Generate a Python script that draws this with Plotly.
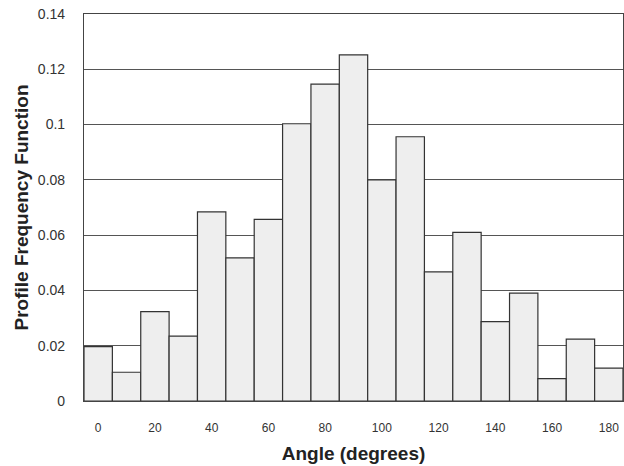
import plotly.graph_objects as go

angles = [0, 10, 20, 30, 40, 50, 60, 70, 80, 90, 100, 110, 120, 130, 140, 150, 160, 170, 180]
frequency = [0.0197, 0.0104, 0.0323, 0.0235, 0.0684, 0.0518, 0.0657, 0.1003, 0.1146, 0.1252,
             0.0800, 0.0956, 0.0467, 0.0610, 0.0287, 0.0390, 0.0081, 0.0224, 0.0119]
y_ticks = [0, 0.02, 0.04, 0.06, 0.08, 0.1, 0.12, 0.14]
y_ticktext = ["0", "0.02", "0.04", "0.06", "0.08", "0.1", "0.12", "0.14"]
x_ticks = [0, 20, 40, 60, 80, 100, 120, 140, 160, 180]

fig = go.Figure()
fig.add_trace(go.Bar(
    x=angles, y=frequency, width=10,
    marker=dict(color="#eeeeee", line=dict(color="#333333", width=1.2)),
))

fig.update_layout(
    width=624, height=466,
    margin=dict(l=84, r=1, t=14, b=65),
    paper_bgcolor="white", plot_bgcolor="white",
    showlegend=False,
    font=dict(family="Liberation Sans, Arial, sans-serif", color="#222222"),
    xaxis=dict(
        range=[-5, 185], tickvals=x_ticks, ticks="", ticklabelstandoff=15,
        tickfont=dict(size=12, color="#333333"),
        showgrid=False, zeroline=False,
        showline=True, linecolor="#444444", linewidth=1.2, mirror=True,
        title=dict(text="<b>Angle (degrees)</b>", font=dict(size=19, color="#222222"), standoff=13),
    ),
    yaxis=dict(
        range=[0, 0.14], tickvals=y_ticks, ticktext=y_ticktext, ticks="",
        ticklabelstandoff=15, tickfont=dict(size=14, color="#333333"),
        showgrid=True, gridcolor="#555555", gridwidth=1, zeroline=False,
        showline=True, linecolor="#444444", linewidth=1.2, mirror=True,
        title=dict(text="<b>Profile Frequency Function</b>", font=dict(size=19, color="#222222"), standoff=4),
    ),
)

fig.write_html("out.html", config={"displayModeBar": False},
               post_script="document.body.style.margin='0';")
